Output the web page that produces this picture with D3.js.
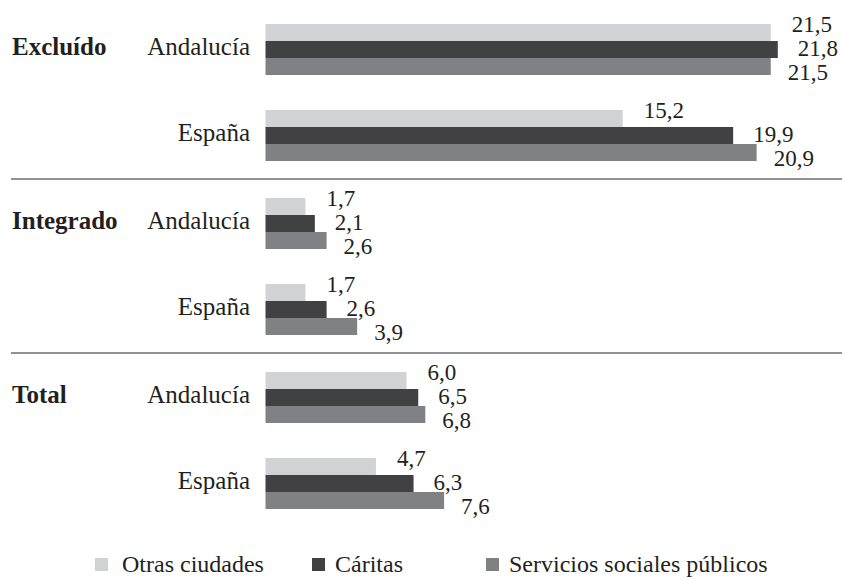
<!DOCTYPE html>
<html>
<head>
<meta charset="utf-8">
<script src="https://cdn.jsdelivr.net/npm/d3@7"></script>
<style>
  body { margin: 0; background: #fff; }
  svg text { font-family: "Liberation Serif", "Times New Roman", serif; fill: #231f20; }
</style>
</head>
<body>
<div id="chart"></div>
<script>

// chart size
const width = 842;
const height = 580;

// data, rows go Excluído/Andalucía, Excluído/España, Integrado/..., Total/...
const groups = ["Excluído", "Integrado", "Total"];
const regions = ["Andalucía", "España"];
const series = ["Otras ciudades", "Cáritas", "Servicios sociales públicos"];
const otrasCiudades = [21.5, 15.2, 1.7, 1.7, 6.0, 4.7];
const caritas = [21.8, 19.9, 2.1, 2.6, 6.5, 6.3];
const serviciosSociales = [21.5, 20.9, 2.6, 3.9, 6.8, 7.6];

const colors = ["#d1d2d4", "#414042", "#808184"];

// build one record per bar
const values = [otrasCiudades, caritas, serviciosSociales];
const bars = [];
groups.forEach((g, gi) => {
  regions.forEach((r, ri) => {
    series.forEach((s, si) => {
      bars.push({group: g, region: r, serie: s, si: si, value: values[si][gi * regions.length + ri]});
    });
  });
});

const svg = d3.select("#chart")
  .append("svg")
  .attr("width", width)
  .attr("height", height);

// scales
const xScale = d3.scaleLinear()
  .domain([0, 22])
  .range([265.5, 265.5 + 22 * 23.5]);

const groupScale = d3.scaleBand()
  .domain(groups)
  .range([11, 533]);

const regionScale = d3.scaleBand()
  .domain(regions)
  .range([13, 185]);

const serieScale = d3.scaleBand()
  .domain(series)
  .range([0, 51]);

const barY = d => groupScale(d.group) + regionScale(d.region) + serieScale(d.serie);
const rowMid = (g, r) => groupScale(g) + regionScale(r) + 25.5;

// separator lines between groups
svg.selectAll(".sep")
  .data(groups.slice(1))
  .enter()
  .append("line")
    .attr("x1", 11)
    .attr("x2", width)
    .attr("y1", d => groupScale(d) - 6)
    .attr("y2", d => groupScale(d) - 6)
    .attr("stroke", "#6d6e70")
    .attr("stroke-width", 1.5);

// bars
svg.selectAll(".bar")
  .data(bars)
  .enter()
  .append("rect")
    .attr("class", "bar")
    .attr("x", xScale(0))
    .attr("y", barY)
    .attr("width", d => xScale(d.value) - xScale(0))
    .attr("height", serieScale.bandwidth())
    .attr("fill", d => colors[d.si]);

// value labels, staggered a bit like the original
const fmt = v => d3.format(".1f")(v).replace(".", ",");
const labelDx = [21, 20, 17];
const labelDy = [-1, 6, 13];

svg.selectAll(".val")
  .data(bars)
  .enter()
  .append("text")
    .attr("class", "val")
    .attr("x", d => xScale(d.value) + labelDx[d.si])
    .attr("y", d => barY(d) + serieScale.bandwidth() / 2 + labelDy[d.si])
    .attr("font-size", "23px")
    .text(d => fmt(d.value));

// region labels
groups.forEach(g => {
  regions.forEach(r => {
    svg.append("text")
      .attr("x", 250)
      .attr("y", rowMid(g, r) + 5)
      .attr("text-anchor", "end")
      .attr("font-size", "25px")
      .text(r);
  });
});

// group labels
svg.selectAll(".grp")
  .data(groups)
  .enter()
  .append("text")
    .attr("x", 12)
    .attr("y", d => rowMid(d, regions[0]) + 5)
    .attr("font-size", "25px")
    .attr("font-weight", "bold")
    .text(d => d);

// legend
const legendX = [95, 312, 486];
const legend = svg.selectAll(".legend")
  .data(series)
  .enter()
  .append("g")
    .attr("transform", (d, i) => `translate(${legendX[i]}, 558)`);

legend.append("rect")
  .attr("width", 13)
  .attr("height", 13)
  .attr("fill", (d, i) => colors[i]);

legend.append("text")
  .attr("x", (d, i) => i == 0 ? 27 : 23)
  .attr("y", 14)
  .attr("font-size", "24px")
  .text(d => d);

</script>
</body>
</html>
